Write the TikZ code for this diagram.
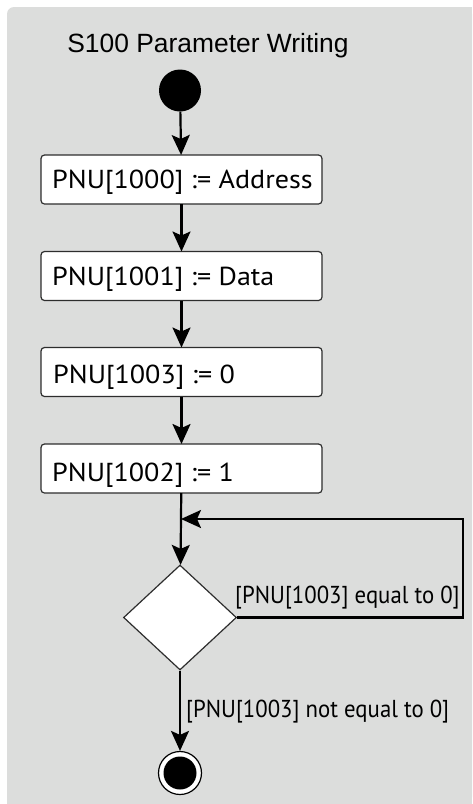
\documentclass[tikz,border=0pt]{standalone}
\usepackage{fontspec}
\setmainfont{PT Sans}
\newfontfamily\titlefont{Liberation Sans}
\newfontfamily\boxfont[FakeStretch=1.08]{PT Sans}
\newfontfamily\labelfont[FakeStretch=0.93]{PT Sans}
\usetikzlibrary{shapes.geometric,arrows.meta}
\definecolor{bg}{RGB}{220,221,220}
\definecolor{edge}{RGB}{45,45,45}
\begin{document}
\begin{tikzpicture}[x=1pt,y=-1pt,
  box/.style={draw=edge,line width=1.2pt,fill=white,rounded corners=3.5pt,
    minimum width=281pt,minimum height=49pt,inner sep=0pt,outer sep=0pt},
  boxtext/.style={anchor=base west,inner sep=0pt,font=\boxfont\fontsize{26}{30}\selectfont},
  flow/.style={line width=2.2pt,-{Stealth[length=20pt,width=18pt,inset=4pt]}},
  guard/.style={anchor=base west,inner sep=0pt,font=\labelfont\fontsize{24.5}{28}\selectfont}]
\useasboundingbox (0,0) rectangle (472,804);
\fill[bg,rounded corners=7pt] (7,7) -- (7,804) -- (472,804) -- (472,7) -- cycle;
\fill[bg] (20,804) rectangle (472,20);
\fill[bg] (7,790) rectangle (472,804);
\fill[bg] (460,7) rectangle (472,804);
\node[anchor=base,inner sep=0pt,font=\titlefont\fontsize{26.4}{30}\selectfont] (title) at (208,52) {S100 Parameter Writing};
\node[circle,fill=black,minimum size=42pt,inner sep=0pt] (start) at (180,90.5) {};
\node[box] (b1) at (181.5,179.5) {};
\node[boxtext] (t1) at (52,188) {PNU[1000] := Address};
\node[box] (b2) at (181.5,276) {};
\node[boxtext] (t2) at (52,285) {PNU[1001] := Data};
\node[box] (b3) at (181.5,372) {};
\node[boxtext] (t3) at (53,383) {PNU[1003] := 0};
\node[box] (b4) at (181.5,468.5) {};
\node[boxtext] (t4) at (52,481) {PNU[1002] := 1};
\node[diamond,draw=edge,line width=1.2pt,fill=white,minimum width=113pt,minimum height=105pt,inner sep=0pt] (dec) at (180,617.5) {};
\node[circle,draw=black,line width=1.2pt,fill=white,minimum size=43pt,inner sep=0pt] (endo) at (180,773) {};
\node[circle,fill=black,minimum size=33pt,inner sep=0pt] (endi) at (180,773) {};
\coordinate (merge) at (180,519);
\coordinate (rt) at (463,617.5);
\coordinate (rtop) at (463,519);
\draw[flow] (start) -- (b1);
\draw[flow] (b1) -- (b2);
\draw[flow] (b2) -- (b3);
\draw[flow] (b3) -- (b4);
\draw[flow] (b4) -- (dec);
\draw[flow] (dec.east) -- (rt) -- (rtop) -- ([xshift=1pt]merge);
\draw[flow] (dec) -- (endo);
\node[guard] (g1) at (235,603) {[PNU[1003] equal to 0]};
\node[guard] (g2) at (186,717) {[PNU[1003] not equal to 0]};
\end{tikzpicture}
\end{document}
